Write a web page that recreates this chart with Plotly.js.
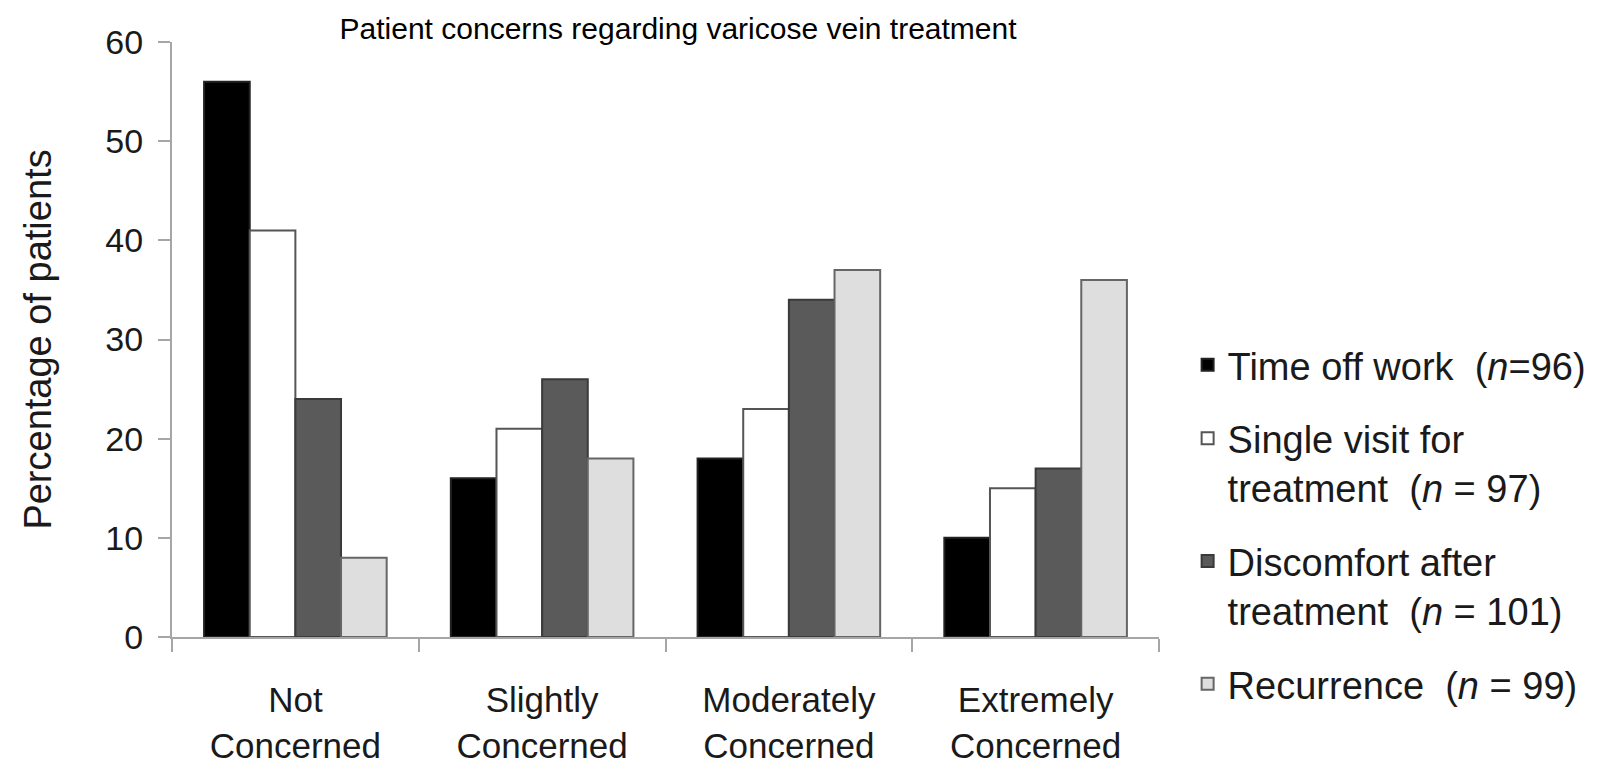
<!DOCTYPE html>
<html>
<head>
<meta charset="utf-8">
<script src="https://cdn.plot.ly/plotly-3.0.1.min.js"></script>
<style>html,body{margin:0;padding:0;background:#fff;}#chart{width:1603px;height:765px;}</style>
</head>
<body>
<div id="chart"></div>
<script>
const categories = ["Not<br>Concerned", "Slightly<br>Concerned", "Moderately<br>Concerned", "Extremely<br>Concerned"];
const seriesNames = [
  "Time off work  (<i>n</i>=96)",
  "Single visit for<br>treatment  (<i>n</i> = 97)",
  "Discomfort after<br>treatment  (<i>n</i> = 101)",
  "Recurrence  (<i>n</i> = 99)"
];
const timeOffWork = [56, 16, 18, 10];
const singleVisit = [41, 21, 23, 15];
const discomfort = [24, 26, 34, 17];
const recurrence = [8, 18, 37, 36];
const yTicks = [0, 10, 20, 30, 40, 50, 60];

const seriesValues = [timeOffWork, singleVisit, discomfort, recurrence];
const fills = ["#000000", "#ffffff", "#5a5a5a", "#dedede"];
const outlines = ["#222222", "#555555", "#3a3a3a", "#666666"];

const FONT = "Liberation Sans, Arial, sans-serif";

const traces = seriesValues.map((vals, i) => ({
  type: "bar",
  name: seriesNames[i],
  x: categories,
  y: vals,
  legendgroup: "g" + i,
  marker: { color: fills[i], line: { color: outlines[i], width: 2 } },
  hoverinfo: "x+y"
}));

const layout = {
  width: 1603,
  height: 765,
  margin: { l: 172, r: 439, t: 42, b: 128 },
  paper_bgcolor: "#ffffff",
  plot_bgcolor: "#ffffff",
  font: { family: FONT, color: "#1a1a1a" },
  barmode: "group",
  bargap: 0.26,
  bargroupgap: 0,
  title: {
    text: "Patient concerns regarding varicose vein treatment",
    font: { family: FONT, size: 30, color: "#000000" },
    xref: "container", yref: "container",
    x: 0.423, xanchor: "center",
    y: 0.963, yanchor: "middle"
  },
  xaxis: {
    type: "category",
    tickson: "boundaries",
    ticks: "outside",
    ticklen: 13,
    tickwidth: 2,
    tickcolor: "#a6a6a6",
    showline: true,
    linecolor: "#a6a6a6",
    linewidth: 2,
    showgrid: false,
    zeroline: false,
    tickfont: { family: FONT, size: 35, color: "#1a1a1a" },
    ticklabelstandoff: 31
  },
  yaxis: {
    range: [0, 60],
    tickvals: yTicks,
    ticktext: yTicks.map(String),
    ticks: "outside",
    ticklen: 12,
    tickwidth: 2,
    tickcolor: "#a6a6a6",
    showline: true,
    linecolor: "#a6a6a6",
    linewidth: 2,
    showgrid: false,
    zeroline: false,
    tickfont: { family: FONT, size: 34, color: "#1a1a1a" },
    ticklabelstandoff: 8,
    title: {
      text: "Percentage of patients",
      font: { family: FONT, size: 38, color: "#1a1a1a" },
      standoff: 42
    }
  },
  showlegend: true,
  legend: {
    x: 1.029, xanchor: "left",
    y: 0.51, yanchor: "top",
    valign: "top",
    tracegroupgap: 21,
    font: { family: FONT, size: 38, color: "#1a1a1a" },
    bgcolor: "rgba(0,0,0,0)",
    traceorder: "grouped"
  }
};

Plotly.newPlot("chart", traces, layout, { displayModeBar: false, staticPlot: true });
</script>
</body>
</html>
